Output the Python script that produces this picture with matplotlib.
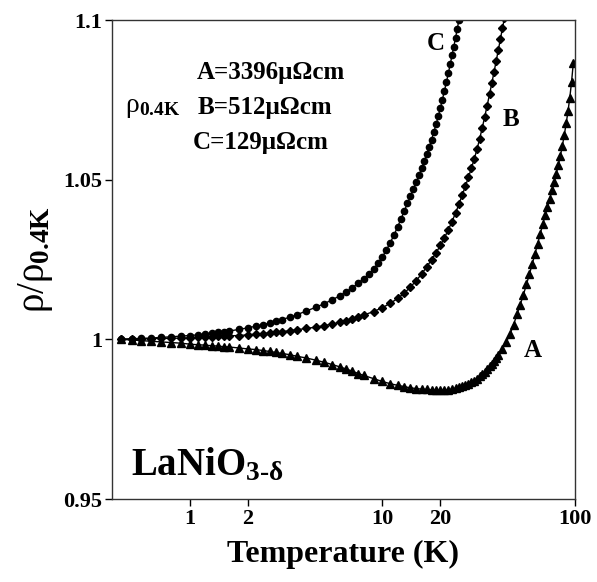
import matplotlib
matplotlib.use('Agg')
import matplotlib.pyplot as plt

plt.rcParams['font.family'] = ['Liberation Serif', 'DejaVu Serif']
plt.rcParams['font.weight'] = 'bold'
plt.rcParams['mathtext.fontset'] = 'custom'
plt.rcParams['mathtext.rm'] = 'Liberation Serif:bold'
plt.rcParams['mathtext.bf'] = 'Liberation Serif:bold'
plt.rcParams['mathtext.it'] = 'Liberation Serif:bold'

# sample A (3396 uOhm cm), triangles
tA = [0.44, 0.5, 0.56, 0.63, 0.71, 0.8, 0.9, 1.0, 1.1, 1.2, 1.3, 1.4, 1.5, 1.6, 1.8, 2.0,
      2.2, 2.4, 2.6, 2.8, 3.0, 3.3, 3.6, 4.0, 4.5, 5.0, 5.5, 6.0, 6.5, 7.0, 7.5, 8.0, 9.0,
      10, 11, 12, 13, 14, 15, 16, 17, 18, 19, 20, 21, 22, 23, 24, 25, 26, 27, 28, 29, 30,
      31, 32, 33, 34, 35, 36, 37, 38, 39, 40, 42, 44, 46, 48, 50, 52, 54, 56, 58, 60, 62,
      64, 66, 68, 70, 72, 74, 76, 78, 80, 82, 84, 86, 88, 90, 92, 94, 96, 98]
rA = [1.0, 0.9998, 0.9996, 0.9994, 0.9992, 0.999, 0.9988, 0.9985, 0.9983, 0.9982, 0.998,
      0.9979, 0.9977, 0.9976, 0.9973, 0.997, 0.9968, 0.9965, 0.9962, 0.9959, 0.9956,
      0.9952, 0.9947, 0.9942, 0.9935, 0.9928, 0.9921, 0.9914, 0.9907, 0.99, 0.9893,
      0.9887, 0.9877, 0.9868, 0.9861, 0.9856, 0.9852, 0.9848, 0.9846, 0.9844, 0.9843,
      0.9842, 0.9841, 0.984, 0.9841, 0.9842, 0.9844, 0.9847, 0.985, 0.9853, 0.9857,
      0.9861, 0.9866, 0.9871, 0.9877, 0.9884, 0.9891, 0.9898, 0.9906, 0.9915, 0.9924,
      0.9933, 0.9942, 0.9951, 0.997, 0.9992, 1.0016, 1.0046, 1.0078, 1.0109, 1.014,
      1.0172, 1.0204, 1.0236, 1.0268, 1.0299, 1.033, 1.036, 1.0388, 1.0415, 1.0441,
      1.0467, 1.0493, 1.0519, 1.0546, 1.0575, 1.0606, 1.064, 1.0676, 1.0714, 1.0757,
      1.0806, 1.0865]

# sample B (512 uOhm cm), diamonds
tB = [0.44, 0.5, 0.56, 0.63, 0.71, 0.8, 0.9, 1.0, 1.1, 1.2, 1.3, 1.4, 1.5, 1.6, 1.8, 2.0,
      2.2, 2.4, 2.6, 2.8, 3.0, 3.3, 3.6, 4.0, 4.5, 5.0, 5.5, 6.0, 6.5, 7.0, 7.5, 8.0, 9.0,
      10, 11, 12, 13, 14, 15, 16, 17, 18, 19, 20, 21, 22, 23, 24, 25, 26, 27, 28, 29, 30,
      31, 32, 33, 34, 35, 36, 37, 38, 39, 40, 41, 42, 43]
rB = [1.0, 1.0001, 1.0001, 1.0002, 1.0003, 1.0003, 1.0004, 1.0005, 1.0006, 1.0007, 1.0008,
      1.0009, 1.001, 1.0011, 1.0012, 1.0014, 1.0016, 1.0018, 1.002, 1.0022, 1.0024,
      1.0027, 1.003, 1.0034, 1.0038, 1.0043, 1.0048, 1.0053, 1.0059, 1.0064, 1.007,
      1.0076, 1.0087, 1.0099, 1.0113, 1.0128, 1.0145, 1.0164, 1.0184, 1.0205, 1.0227,
      1.0249, 1.0271, 1.0294, 1.0318, 1.0343, 1.0369, 1.0396, 1.0424, 1.0452, 1.048,
      1.0508, 1.0536, 1.0565, 1.0595, 1.0628, 1.0662, 1.0697, 1.0732, 1.0767, 1.0802,
      1.0837, 1.0872, 1.0906, 1.094, 1.0974, 1.1005]

# sample C (129 uOhm cm), circles
tC = [0.44, 0.5, 0.56, 0.63, 0.71, 0.8, 0.9, 1.0, 1.1, 1.2, 1.3, 1.4, 1.5, 1.6, 1.8, 2.0,
      2.2, 2.4, 2.6, 2.8, 3.0, 3.3, 3.6, 4.0, 4.5, 5.0, 5.5, 6.0, 6.5, 7.0, 7.5, 8.0, 8.5,
      9.0, 9.5, 10, 10.5, 11, 11.5, 12, 12.5, 13, 13.5, 14, 14.5, 15, 15.5, 16, 16.5, 17,
      17.5, 18, 18.5, 19, 19.5, 20, 20.5, 21, 21.5, 22, 22.5, 23, 23.5, 24, 24.5, 25]
rC = [1.0, 1.0002, 1.0003, 1.0004, 1.0006, 1.0008, 1.001, 1.0012, 1.0014, 1.0017, 1.0019,
      1.0022, 1.0024, 1.0026, 1.0031, 1.0036, 1.0041, 1.0046, 1.0051, 1.0056, 1.0062,
      1.0069, 1.0077, 1.0088, 1.01, 1.0112, 1.0124, 1.0136, 1.0149, 1.0162, 1.0176,
      1.019, 1.0204, 1.022, 1.0238, 1.0258, 1.028, 1.0303, 1.0327, 1.0352, 1.0377,
      1.0402, 1.0426, 1.0449, 1.0471, 1.0493, 1.0514, 1.0536, 1.0558, 1.058, 1.0602,
      1.0625, 1.0649, 1.0673, 1.0698, 1.0724, 1.0751, 1.0778, 1.0805, 1.0833, 1.0861,
      1.0889, 1.0917, 1.0945, 1.0973, 1.1001]

xticks = [1, 2, 10, 20, 100]
yticks = [0.95, 1.0, 1.05, 1.1]
ylabels = ['0.95', '1', '1.05', '1.1']

fig = plt.figure(figsize=(5.97, 5.82), dpi=100)
ax = fig.add_axes([0.1876, 0.1426, 0.7755, 0.823])

ax.plot(tA, rA, '-', color='black', lw=1, marker='^', ms=5.5, mec='black', mfc='black')
ax.plot(tB, rB, '-', color='black', lw=1, marker='D', ms=4, mec='black', mfc='black')
ax.plot(tC, rC, '-', color='black', lw=1, marker='o', ms=4.5, mec='black', mfc='black')

ax.set_xscale('log')
ax.set_xlim(0.395, 100)
ax.set_ylim(0.95, 1.1)
ax.set_xticks(xticks)
ax.set_xticklabels([str(v) for v in xticks])
ax.minorticks_off()
ax.set_yticks(yticks)
ax.set_yticklabels(ylabels)
ax.tick_params(direction='out', length=5, width=1, labelsize=16, pad=2)
for s in ax.spines.values():
    s.set_linewidth(1)
    s.set_color('#333333')

ax.set_xlabel('Temperature (K)', fontsize=23, fontweight='bold', labelpad=8)
ax.set_ylabel('ρ/ρ$_{\\mathbf{0.4K}}$', fontsize=28, fontweight='normal', labelpad=6)

ax.text(18.9, 1.0928, 'C', fontsize=18, ha='center', va='center')
ax.text(46.6, 1.0688, 'B', fontsize=18, ha='center', va='center')
ax.text(60.6, 0.9966, 'A', fontsize=18, ha='center', va='center')

ax.text(0.184, 0.891, 'A=3396μΩcm', transform=ax.transAxes, fontsize=18, va='center')
ax.text(0.184, 0.818, 'B=512μΩcm', transform=ax.transAxes, fontsize=18, va='center')
ax.text(0.175, 0.745, 'C=129μΩcm', transform=ax.transAxes, fontsize=18, va='center')
ax.text(0.028, 0.818, 'ρ$_{\\mathbf{0.4K}}$', transform=ax.transAxes, fontsize=20,
        fontweight='normal', va='center')

ax.text(0.041, 0.07, 'LaNiO$_{3\\text{-}\\delta}$', transform=ax.transAxes, fontsize=28,
        va='center')

fig.savefig('out.png', dpi=100)
